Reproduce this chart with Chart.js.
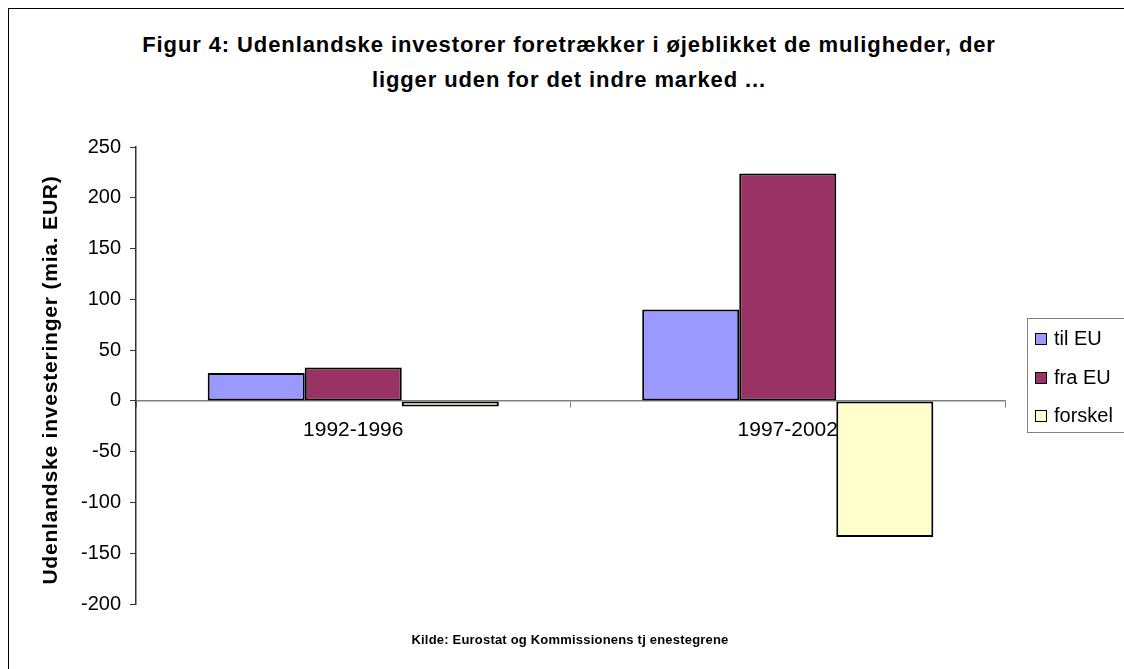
<!DOCTYPE html>
<html>
<head>
<meta charset="utf-8">
<script src="https://cdn.jsdelivr.net/npm/chart.js@4/dist/chart.umd.min.js"></script>
<style>
  body { margin: 0; background: #fff; font-family: "Liberation Sans", Arial, sans-serif; }
  #wrap { position: relative; width: 1124px; height: 669px; overflow: hidden; }
  #frame { position: absolute; left: 8px; top: 8px; width: 1200px; height: 700px; border: 1px solid #000; }
  #chart { position: absolute; left: 0; top: 0; }
  .title { position: absolute; left: 0; width: 1138px; text-align: center; font-weight: bold; font-size: 22px; line-height: 22px; letter-spacing: 0.9px; color: #000; }
  #ytitle { position: absolute; left: 50px; top: 380px; width: 600px; margin-left: -300px; margin-top: -12px; height: 24px; line-height: 24px;
            text-align: center; font-weight: bold; font-size: 21px; letter-spacing: 0.8px; transform: rotate(-90deg); white-space: nowrap; }
  #source { position: absolute; left: 0; width: 1140px; top: 632px; text-align: center; font-weight: bold; font-size: 13px; letter-spacing: 0.2px; }
  #legend { position: absolute; left: 1027px; top: 318px; width: 120px; height: 113px; border: 1px solid #808080; }
  .item { position: absolute; left: 7px; font-size: 20px; line-height: 22px; white-space: nowrap; }
  .item span.box { display: inline-block; width: 10px; height: 10px; border: 1.5px solid #000; margin-right: 7px; vertical-align: 0px; }
</style>
</head>
<body>
<div id="wrap">
  <div id="frame"></div>
  <div class="title" style="top:34px">Figur 4: Udenlandske investorer foretrækker i øjeblikket de muligheder, der</div>
  <div class="title" style="top:69px">ligger uden for det indre marked ...</div>
  <canvas id="chart" width="1124" height="669"></canvas>
  <div id="ytitle">Udenlandske investeringer (mia. EUR)</div>
  <div id="legend"></div>
  <div id="source">Kilde: Eurostat og Kommissionens tj enestegrene</div>
</div>
<script>
// data
const periods = ['1992-1996', '1997-2002'];
const tilEU = [27.5, 90];
const fraEU = [33, 224];
const forskel = [-5.5, -134];
const seriesNames = ['til EU', 'fra EU', 'forskel'];
const seriesColors = ['#9999FF', '#993366', '#FFFFCC'];

const ctx = document.getElementById('chart').getContext('2d');
const chart = new Chart(ctx, {
    type: 'bar',
    data: {
        labels: periods,
        datasets: [tilEU, fraEU, forskel].map((d, i) => ({
            label: seriesNames[i],
            data: d,
            backgroundColor: seriesColors[i],
            borderColor: '#000',
            borderWidth: 2,
            borderSkipped: false,
            categoryPercentage: 0.67,
            barPercentage: 1
        }))
    },
    options: {
        responsive: false,
        animation: false,
        layout: { padding: { top: 147, bottom: 65, right: 119, left: 0 } },
        plugins: {
            legend: { display: false },
            tooltip: { enabled: false }
        },
        scales: {
            x: {
                position: { y: 0 },
                offset: true,
                grid: { offset: true, drawOnChartArea: false, drawTicks: true, tickLength: 6, color: '#808080' },
                border: { color: '#808080', width: 1.5 },
                ticks: { color: '#000', padding: 11, font: { family: 'Liberation Sans', size: 21 } }
            },
            y: {
                min: -200,
                max: 250,
                ticks: { stepSize: 50, color: '#000', padding: 9, font: { family: 'Liberation Sans', size: 20 } },
                grid: { drawOnChartArea: false, drawTicks: true, tickLength: 6, color: '#333' },
                border: { color: '#333', width: 1.5 },
                // axis title is drawn as rotated html text (needs letter spacing)
                afterFit: (scale) => { scale.width = 136; }
            }
        }
    }
});

// legend built from the dataset names and colours
const legend = document.getElementById('legend');
seriesNames.forEach((name, i) => {
    const el = document.createElement('div');
    el.className = 'item';
    el.style.top = (8 + i * 38.5) + 'px';
    el.innerHTML = '<span class="box" style="background:' + seriesColors[i] + '"></span>' + name;
    legend.appendChild(el);
});
</script>
</body>
</html>
